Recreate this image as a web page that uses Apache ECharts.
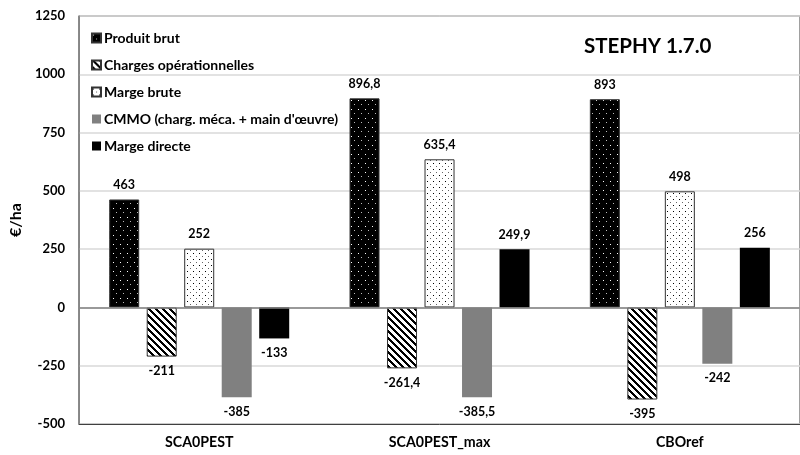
<!DOCTYPE html>
<html>
<head>
<meta charset="utf-8">
<script src="https://cdn.jsdelivr.net/npm/echarts@6/dist/echarts.min.js"></script>
<style>
  html, body { margin: 0; padding: 0; background: #fff; }
  #chart { width: 800px; height: 455px; }
</style>
</head>
<body>
<div id="chart"></div>
<script>
// Economic results per system (€/ha)
const categories = ['SCA0PEST', 'SCA0PEST_max', 'CBOref'];
const seriesNames = [
  'Produit brut',
  'Charges opérationnelles',
  'Marge brute',
  "CMMO (charg. méca. + main d'œuvre)",
  'Marge directe'
];
const produitBrut = [463, 896.8, 893];
const chargesOp = [-211, -261.4, -395];
const margeBrute = [252, 635.4, 498];
const cmmo = [-385, -385.5, -242];
const margeDirecte = [-133, 249.9, 256];
const yTicks = { min: -500, max: 1250, step: 250 };

// Small tile canvases used as fill patterns
function tile(w, h, draw) {
  const c = document.createElement('canvas');
  c.width = w; c.height = h;
  draw(c.getContext('2d'), w, h);
  return c;
}
const dotsOnBlack = tile(7, 9, (ctx, w, h) => {
  ctx.fillStyle = '#000'; ctx.fillRect(0, 0, w, h);
  ctx.fillStyle = '#fff';
  ctx.fillRect(1, 1, 1, 1);
  ctx.fillStyle = '#bbb';
  ctx.fillRect(4, 5, 1, 1);
});
const dotsOnWhite = tile(6, 6, (ctx, w, h) => {
  ctx.fillStyle = '#fff'; ctx.fillRect(0, 0, w, h);
  ctx.fillStyle = '#000';
  ctx.fillRect(1, 1, 1, 1);
  ctx.fillStyle = '#666';
  ctx.fillRect(4, 4, 1, 1);
});
const stripes = tile(7, 7, (ctx, w, h) => {
  const img = ctx.createImageData(w, h);
  for (let y = 0; y < h; y++) {
    for (let x = 0; x < w; x++) {
      const k = (((x - y) % 7) + 7) % 7;
      const v = k < 3 ? 0 : 255;
      const i = (y * w + x) * 4;
      img.data[i] = v; img.data[i + 1] = v; img.data[i + 2] = v; img.data[i + 3] = 255;
    }
  }
  ctx.putImageData(img, 0, 0);
});

const fontFamily = 'Lato, "Open Sans", sans-serif';
const fmt = p => String(p.value).replace('.', ',');

function barSeries(name, data, color, bordered) {
  return {
    name: name,
    type: 'bar',
    data: data.map(v => ({
      value: v,
      label: { position: v >= 0 ? 'top' : 'bottom' }
    })),
    barWidth: 30,
    barGap: '25%',
    itemStyle: {
      color: color,
      borderColor: bordered ? '#333' : 'transparent',
      borderWidth: bordered ? 1 : 0
    },
    label: {
      show: true,
      formatter: fmt,
      distance: 8,
      fontFamily: fontFamily,
      fontWeight: 'bold',
      fontSize: 12.5,
      color: '#000'
    },
    emphasis: { disabled: true }
  };
}

const series = [
  barSeries(seriesNames[0], produitBrut, { image: dotsOnBlack, repeat: 'repeat' }, true),
  barSeries(seriesNames[1], chargesOp, { image: stripes, repeat: 'repeat' }, true),
  barSeries(seriesNames[2], margeBrute, { image: dotsOnWhite, repeat: 'repeat' }, true),
  barSeries(seriesNames[3], cmmo, '#808080', false),
  barSeries(seriesNames[4], margeDirecte, '#000', false)
];
// zero line across the plot
series[0].markLine = {
  silent: true,
  symbol: 'none',
  label: { show: false },
  lineStyle: { color: '#808080', width: 1.5, type: 'solid' },
  data: [{ yAxis: 0 }]
};

const chart = echarts.init(document.getElementById('chart'), null, { renderer: 'canvas' });
chart.setOption({
  animation: false,
  backgroundColor: '#fff',
  title: {
    text: 'STEPHY 1.7.0',
    left: 579,
    top: 31,
    textStyle: { fontFamily: fontFamily, fontWeight: 'bold', fontSize: 20.5, color: '#000' }
  },
  legend: {
    orient: 'vertical',
    left: 86,
    top: 26,
    itemWidth: 9,
    itemHeight: 9,
    itemGap: 13,
    icon: 'rect',
    selectedMode: false,
    textStyle: {
      fontFamily: fontFamily, fontWeight: 'bold', fontSize: 14, lineHeight: 14,
      color: '#000', padding: [0, 0, 0, -2]
    },
    data: seriesNames
  },
  grid: {
    left: 75,
    top: 16,
    width: 727,
    height: 408,
    show: true,
    borderColor: '#404040',
    borderWidth: 1
  },
  xAxis: {
    type: 'category',
    data: categories,
    position: 'bottom',
    axisLine: { onZero: false, lineStyle: { color: '#404040' } },
    axisTick: { show: false },
    axisLabel: {
      margin: 11,
      fontFamily: fontFamily,
      fontWeight: 'bold',
      fontSize: 14.2,
      color: '#000'
    }
  },
  yAxis: {
    type: 'value',
    min: yTicks.min,
    max: yTicks.max,
    interval: yTicks.step,
    name: '€/ha',
    nameLocation: 'middle',
    nameRotate: 90,
    nameGap: 53,
    nameTextStyle: { fontFamily: fontFamily, fontWeight: 'bold', fontSize: 16, color: '#000' },
    axisLine: { show: true, lineStyle: { color: '#808080', width: 1.5 } },
    axisTick: { show: false },
    axisLabel: {
      margin: 14,
      formatter: v => String(v),
      fontFamily: fontFamily,
      fontWeight: 'bold',
      fontSize: 13,
      color: '#000'
    },
    splitLine: { show: true, lineStyle: { color: '#d9d9d9', width: 1.5 } }
  },
  series: series
});
</script>
</body>
</html>
